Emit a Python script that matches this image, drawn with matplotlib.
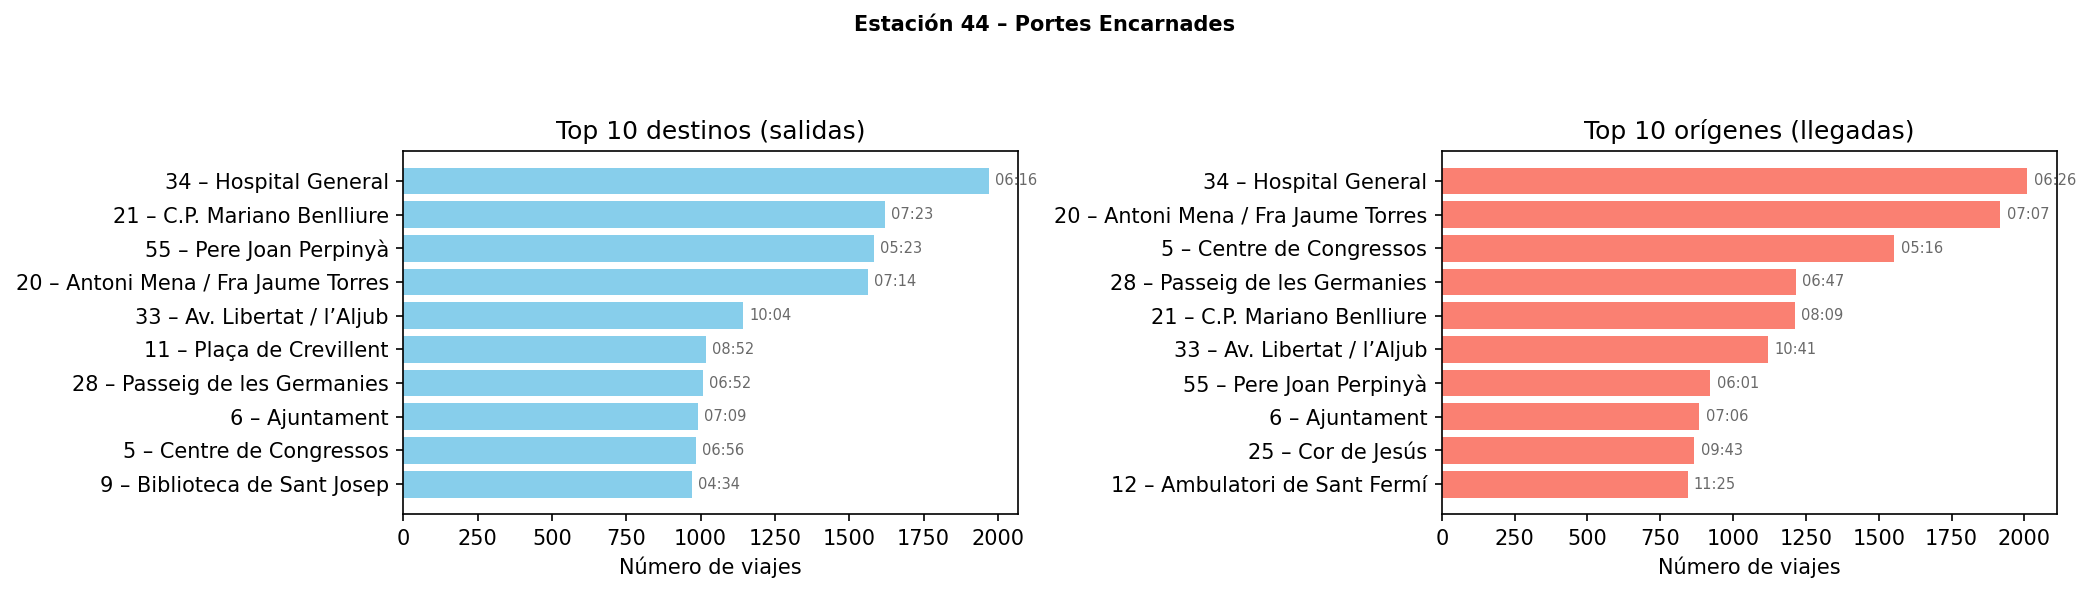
import matplotlib.pyplot as plt

# Top 10 destinos (salidas)
dest_names = ['34 – Hospital General', '21 – C.P. Mariano Benlliure', '55 – Pere Joan Perpinyà',
              '20 – Antoni Mena / Fra Jaume Torres', '33 – Av. Libertat / l’Aljub',
              '11 – Plaça de Crevillent', '28 – Passeig de les Germanies', '6 – Ajuntament',
              '5 – Centre de Congressos', '9 – Biblioteca de Sant Josep']
dest_trips = [1970, 1620, 1583, 1562, 1142, 1017, 1008, 991, 984, 971]
dest_times = ['06:16', '07:23', '05:23', '07:14', '10:04', '08:52', '06:52', '07:09', '06:56', '04:34']

# Top 10 orígenes (llegadas)
orig_names = ['34 – Hospital General', '20 – Antoni Mena / Fra Jaume Torres', '5 – Centre de Congressos',
              '28 – Passeig de les Germanies', '21 – C.P. Mariano Benlliure', '33 – Av. Libertat / l’Aljub',
              '55 – Pere Joan Perpinyà', '6 – Ajuntament', '25 – Cor de Jesús',
              '12 – Ambulatori de Sant Fermí']
orig_trips = [2010, 1918, 1554, 1216, 1212, 1120, 922, 884, 867, 844]
orig_times = ['06:26', '07:07', '05:16', '06:47', '08:09', '10:41', '06:01', '07:06', '09:43', '11:25']

fig, axes = plt.subplots(1, 2, figsize=(2090 / 150, 594 / 150), dpi=150)
fig.subplots_adjust(left=0.193, right=0.984, top=1 - 151 / 594, bottom=1 - 514 / 594, wspace=0.689)

panels = [
    (axes[0], dest_names, dest_trips, dest_times, 'skyblue', 'Top 10 destinos (salidas)'),
    (axes[1], orig_names, orig_trips, orig_times, 'salmon', 'Top 10 orígenes (llegadas)'),
]

for ax, names, trips, times, color, title in panels:
    bars = ax.barh(names, trips, color=color)
    ax.invert_yaxis()
    for bar, t in zip(bars, times):
        ax.annotate(t, (bar.get_width(), bar.get_y() + bar.get_height() / 2),
                    xytext=(3, 0), textcoords='offset points',
                    va='center', ha='left', fontsize=7, color='dimgray')
    ax.set_title(title)
    ax.set_xlabel('Número de viajes')

fig.suptitle('Estación 44 – Portes Encarnades', fontsize=10, fontweight='bold', y=0.975)
fig.savefig('out.png', dpi=150)
